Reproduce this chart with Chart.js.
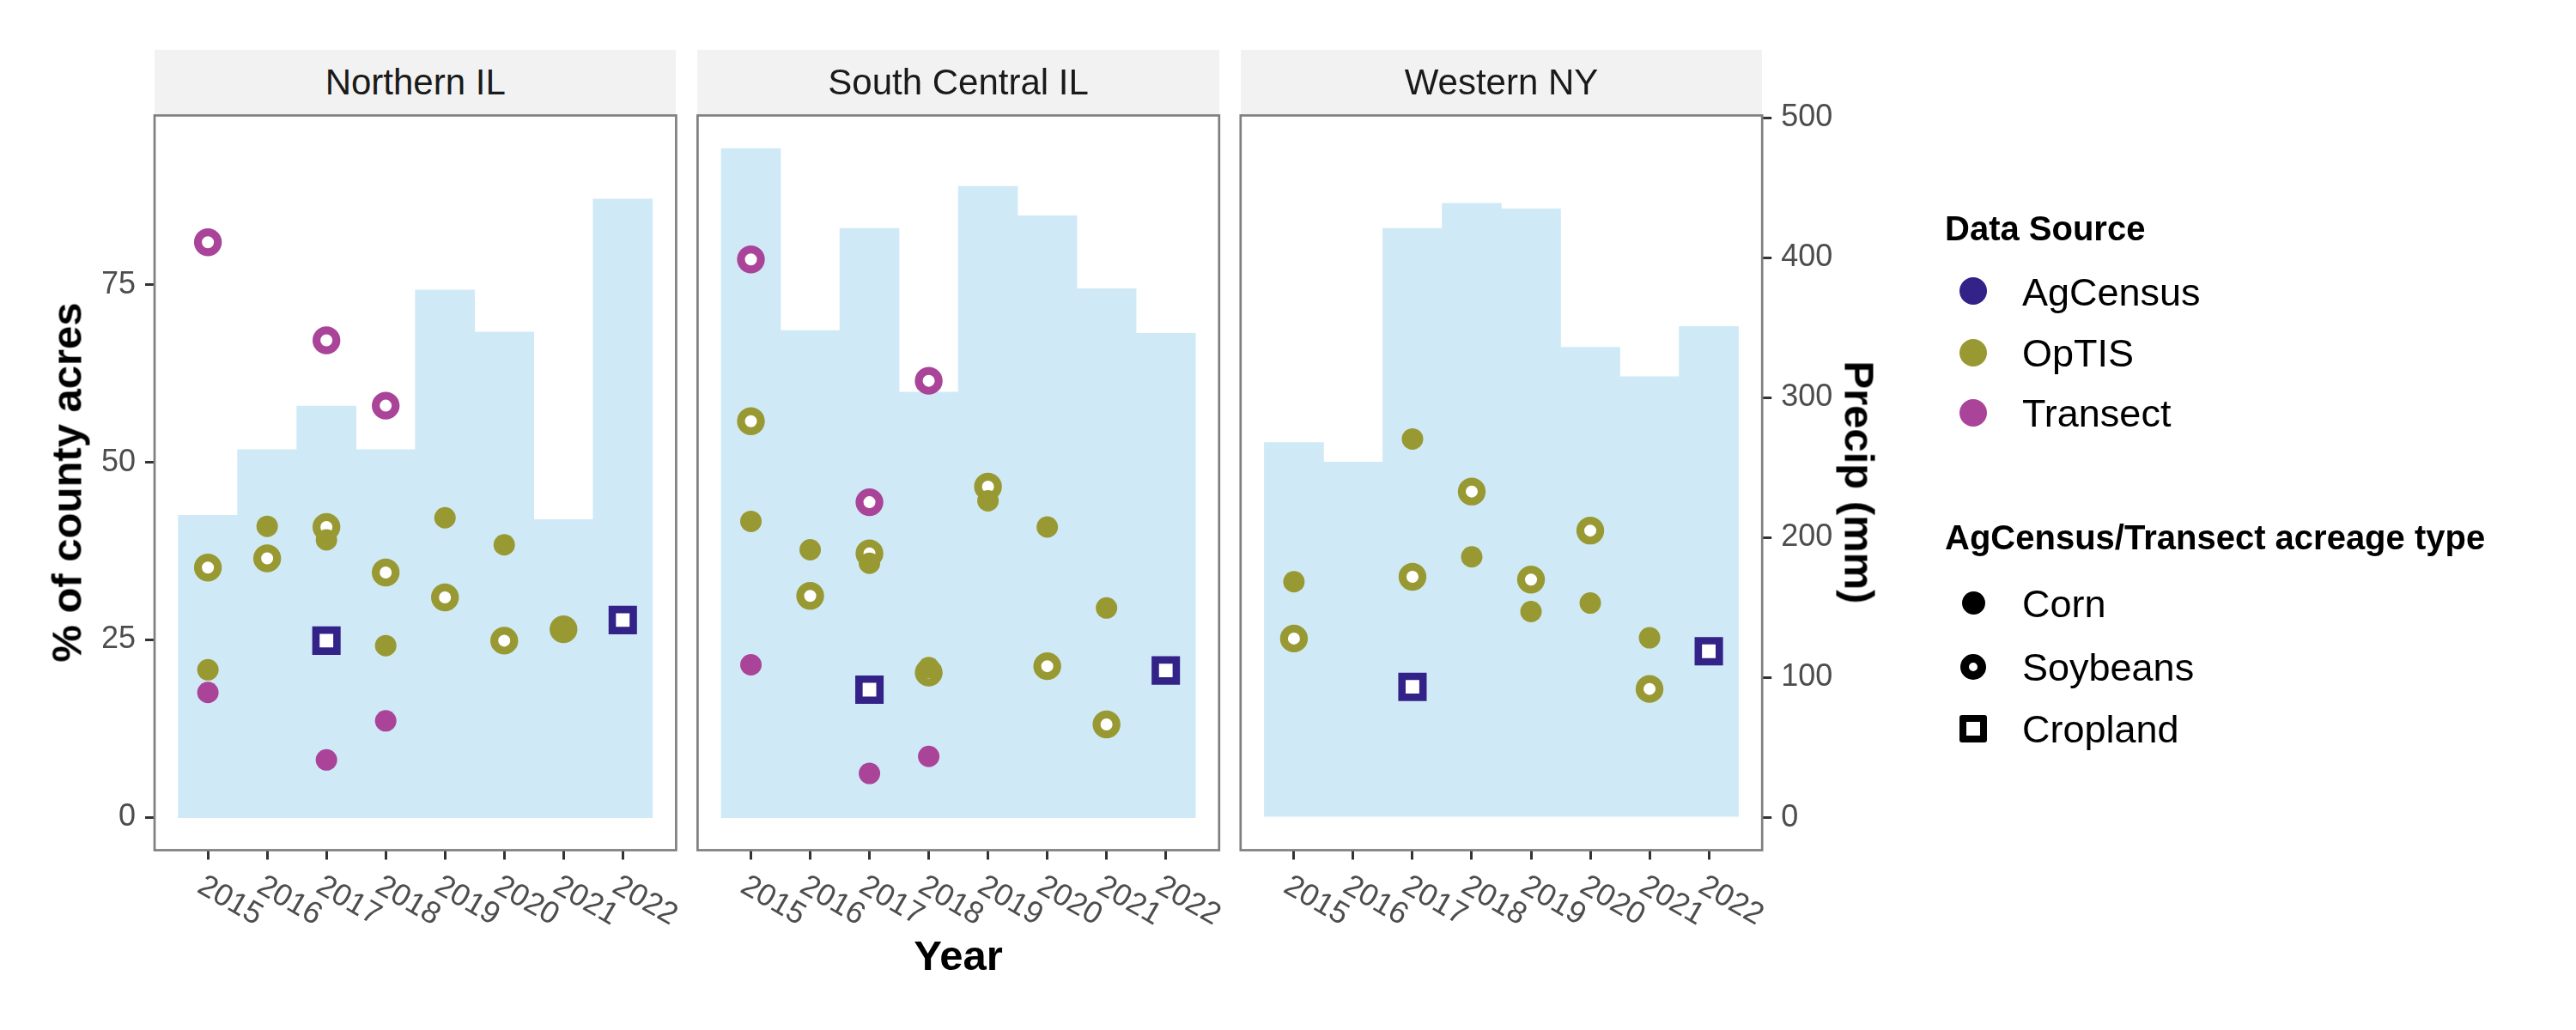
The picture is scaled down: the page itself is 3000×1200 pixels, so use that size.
<!DOCTYPE html>
<html>
<head>
<meta charset="utf-8">
<script src="https://cdn.jsdelivr.net/npm/chart.js@4.4.1/dist/chart.umd.min.js"></script>
<style>
  html, body { margin: 0; padding: 0; background: #ffffff; }
  #wrap { position: relative; width: 3000px; height: 1200px; overflow: hidden;
          font-family: "Liberation Sans", Arial, sans-serif; background: #ffffff; }
  #wrap canvas { position: absolute; left: 0; top: 0; }
  .strip { position: absolute; top: 58px; height: 75px; background: #F2F2F2; color: #1A1A1A;
           font-size: 42px; line-height: 75px; text-align: center; white-space: nowrap; }
  .axtitle { position: absolute; font-weight: bold; font-size: 49px; line-height: 49px;
             color: #000; white-space: nowrap; transform-origin: center center; }
  .legtitle { position: absolute; left: 2265px; font-weight: bold; font-size: 40px; line-height: 40px;
              color: #000; white-space: nowrap; }
  .legtext { position: absolute; left: 2355px; font-size: 45px; line-height: 45px; color: #000; white-space: nowrap; }
  .key { position: absolute; box-sizing: border-box; }
</style>
</head>
<body>
<div id="wrap">
  <canvas id="c0" width="3000" height="1200"></canvas>
  <canvas id="c1" width="3000" height="1200"></canvas>
  <canvas id="c2" width="3000" height="1200"></canvas>
</div>
<script>
// ---------------- DATA ----------------
const years = [2015, 2016, 2017, 2018, 2019, 2020, 2021, 2022];
const yearLabels = ['2015', '2016', '2017', '2018', '2019', '2020', '2021', '2022'];
const regionNames = ['Northern IL', 'South Central IL', 'Western NY'];
const pctTicks = [0, 25, 50, 75];
const precipTicks = [0, 100, 200, 300, 400, 500];
const sourceNames = ['AgCensus', 'OpTIS', 'Transect'];
const acreageTypes = ['Corn', 'Soybeans', 'Cropland'];

// Precipitation (mm), bars
const precipNorthernIL     = [216, 263, 294, 263, 377, 347, 213, 442];
const precipSouthCentralIL = [478, 348, 421, 304, 451, 430, 378, 346];
const precipWesternNY      = [268, 254, 421, 439, 435, 336, 315, 351];

// % of county acres — Northern IL
const optisCornNorthernIL     = [20.8, 41.0, 39.1, 24.2, 42.2, 38.4, 26.5, null];
const optisSoyNorthernIL      = [35.2, 36.5, 40.9, 34.5, 31.0, 24.9, 26.5, null];
const transectCornNorthernIL  = [17.6, null, 8.1, 13.6, null, null, null, null];
const transectSoyNorthernIL   = [81.0, null, 67.2, 58.0, null, null, null, null];
const agCroplandNorthernIL    = [null, null, 24.9, null, null, null, null, 27.8];

// % of county acres — South Central IL
const optisCornSouthCentralIL    = [41.7, 37.7, 35.8, 21.1, 44.6, 40.9, 29.5, null];
const optisSoySouthCentralIL     = [55.8, 31.2, 37.2, 20.4, 46.6, 21.3, 13.1, null];
const transectCornSouthCentralIL = [21.5, null, 6.2, 8.6, null, null, null, null];
const transectSoySouthCentralIL  = [78.6, null, 44.4, 61.5, null, null, null, null];
const agCroplandSouthCentralIL   = [null, null, 18.0, null, null, null, null, 20.7];

// % of county acres — Western NY
const optisCornWesternNY    = [33.2, null, 53.3, 36.7, 29.0, 30.2, 25.3, null];
const optisSoyWesternNY     = [25.2, null, 33.9, 45.9, 33.5, 40.4, 18.1, null];
const transectCornWesternNY = [null, null, null, null, null, null, null, null];
const transectSoyWesternNY  = [null, null, null, null, null, null, null, null];
const agCroplandWesternNY   = [null, null, 18.4, null, null, null, null, 23.4];

// ---------------- STYLE / LAYOUT ----------------
const COL_AG = '#332288', COL_OP = '#999933', COL_TR = '#AA4499';
const BAR_FILL = '#CFEAF6';
const FONT = '"Liberation Sans", Arial, sans-serif';
const PANEL_TOP = 134.5, PANEL_BOTTOM = 990.5;
const PANEL_LEFT = [180, 812.4, 1444.8], PANEL_W = 607.4;
const X_MIN = 2014.1, X_MAX = 2022.9;
const Y_MIN = -4.61, Y_MAX = 98.87;
const Y2_MIN = -23.24, Y2_MAX = 501.7;

Chart.defaults.font.family = FONT;

const panelTables = [
  { precip: precipNorthernIL, oc: optisCornNorthernIL, os: optisSoyNorthernIL, tc: transectCornNorthernIL, ts: transectSoyNorthernIL, ag: agCroplandNorthernIL },
  { precip: precipSouthCentralIL, oc: optisCornSouthCentralIL, os: optisSoySouthCentralIL, tc: transectCornSouthCentralIL, ts: transectSoySouthCentralIL, ag: agCroplandSouthCentralIL },
  { precip: precipWesternNY, oc: optisCornWesternNY, os: optisSoyWesternNY, tc: transectCornWesternNY, ts: transectSoyWesternNY, ag: agCroplandWesternNY }
];

function pts(arr) {
  return years.map((x, i) => ({ x: x, y: arr[i] })).filter(p => p.y !== null);
}
function pointSet(label, arr, color, kind, order) {
  const d = { type: 'scatter', label: label, data: pts(arr), xAxisID: 'x', yAxisID: 'y', order: order };
  if (kind === 'corn') Object.assign(d, { pointStyle: 'circle', pointRadius: 12.5, pointBorderWidth: 0, pointBackgroundColor: color, pointBorderColor: color });
  if (kind === 'soy')  Object.assign(d, { pointStyle: 'circle', pointRadius: 11.6, pointBorderWidth: 9.2, pointBackgroundColor: '#FFFFFF', pointBorderColor: color });
  if (kind === 'crop') Object.assign(d, { pointStyle: 'rect', pointRadius: 17.3, pointBorderWidth: 8.6, pointBackgroundColor: '#FFFFFF', pointBorderColor: color });
  return d;
}

const panelPlugin = {
  id: 'panelDecor',
  afterDraw(chart) {
    const ctx = chart.ctx, a = chart.chartArea, xs = chart.scales.x;
    ctx.save();
    ctx.strokeStyle = '#7F7F7F';
    ctx.lineWidth = 2.7;
    ctx.strokeRect(a.left, a.top, a.right - a.left, a.bottom - a.top);
    ctx.font = '36px ' + FONT;
    ctx.fillStyle = '#4D4D4D';
    ctx.textAlign = 'left';
    ctx.textBaseline = 'alphabetic';
    xs.ticks.forEach((t) => {
      const px = xs.getPixelForValue(t.value);
      ctx.save();
      ctx.translate(px - 14, a.bottom + 47.8);
      ctx.rotate(Math.PI / 6);
      ctx.fillText(yearLabels[years.indexOf(t.value)], 0, 0);
      ctx.restore();
    });
    ctx.restore();
  }
};

function makePanel(idx) {
  const T = panelTables[idx];
  const left = PANEL_LEFT[idx], right = left + PANEL_W;
  const showY = idx === 0, showY2 = idx === 2;
  const yW = 60, y2W = 100, xH = 12;
  const tickGrid = { display: true, offset: false, drawOnChartArea: false, drawTicks: true, tickLength: 11,
                     tickWidth: 3, lineWidth: 3, tickColor: '#333333', color: '#333333' };
  const datasets = [
    { type: 'bar', label: 'Precip', data: years.map((x, i) => ({ x: x, y: T.precip[i] })), xAxisID: 'x', yAxisID: 'y2',
      backgroundColor: BAR_FILL, borderWidth: 0, barPercentage: 1, categoryPercentage: 1, grouped: false, order: 20 },
    pointSet('OpTIS Soybeans', T.os, COL_OP, 'soy', 6),
    pointSet('Transect Soybeans', T.ts, COL_TR, 'soy', 6),
    pointSet('OpTIS Corn', T.oc, COL_OP, 'corn', 4),
    pointSet('Transect Corn', T.tc, COL_TR, 'corn', 4),
    pointSet('AgCensus Cropland', T.ag, COL_AG, 'crop', 2)
  ];
  return new Chart(document.getElementById('c' + idx), {
    type: 'bar',
    data: { datasets: datasets },
    plugins: [panelPlugin],
    options: {
      responsive: false, animation: false, events: [],
      layout: { padding: { left: left - (showY ? yW : 0), right: 3000 - right - (showY2 ? y2W : 0),
                           top: PANEL_TOP, bottom: 1200 - PANEL_BOTTOM - xH } },
      plugins: { legend: { display: false }, tooltip: { enabled: false }, title: { display: false } },
      scales: {
        x: { type: 'linear', min: X_MIN, max: X_MAX, offset: false,
             afterBuildTicks: s => { s.ticks = years.map(v => ({ value: v })); },
             afterFit: s => { s.height = xH; },
             ticks: { display: false }, grid: tickGrid, border: { display: false } },
        y: { type: 'linear', position: 'left', display: showY, min: Y_MIN, max: Y_MAX,
             afterBuildTicks: s => { s.ticks = pctTicks.map(v => ({ value: v })); },
             afterFit: s => { s.width = showY ? yW : 0; },
             ticks: { display: true, font: { size: 36, family: FONT }, color: '#4D4D4D', padding: 11,
                      autoSkip: false, callback: v => String(v) },
             grid: tickGrid, border: { display: false } },
        y2: { type: 'linear', position: 'right', display: showY2, min: Y2_MIN, max: Y2_MAX,
              afterBuildTicks: s => { s.ticks = precipTicks.map(v => ({ value: v })); },
              afterFit: s => { s.width = showY2 ? y2W : 0; },
              ticks: { display: true, font: { size: 36, family: FONT }, color: '#4D4D4D', padding: 11,
                       autoSkip: false, callback: v => String(v) },
              grid: tickGrid, border: { display: false } }
      }
    }
  });
}

// ---------------- HTML TEXT (strips, titles, legend) ----------------
const wrap = document.getElementById('wrap');
function addDiv(cls, text, style) {
  const d = document.createElement('div');
  d.className = cls;
  if (text !== null) d.textContent = text;
  Object.assign(d.style, style);
  wrap.appendChild(d);
  return d;
}
regionNames.forEach((n, i) => addDiv('strip', n, { left: PANEL_LEFT[i] + 'px', width: PANEL_W + 'px' }));

addDiv('axtitle', '% of county acres', { left: '78px', top: '561.5px', transform: 'translate(-50%,-50%) rotate(-90deg)' });
addDiv('axtitle', 'Precip (mm)', { left: '2165px', top: '562px', transform: 'translate(-50%,-50%) rotate(90deg)' });
addDiv('axtitle', 'Year', { left: ((PANEL_LEFT[0] + PANEL_LEFT[2] + PANEL_W) / 2) + 'px', top: '1113px', transform: 'translate(-50%,-50%)' });

// legend: Data Source
addDiv('legtitle', 'Data Source', { top: '246px' });
const srcColors = [COL_AG, COL_OP, COL_TR];
const srcY = [339.3, 410.7, 480.7];
sourceNames.forEach((n, i) => {
  addDiv('key', null, { left: (2298 - 16) + 'px', top: (srcY[i] - 16) + 'px', width: '32px', height: '32px',
                         borderRadius: '50%', background: srcColors[i] });
  addDiv('legtext', n, { top: (srcY[i] + 16.5 - 38.1) + 'px' });
});
// legend: acreage type
addDiv('legtitle', 'AgCensus/Transect acreage type', { top: '606px' });
const typeY = [702.5, 776.7, 849];
addDiv('key', null, { left: (2298 - 13.5) + 'px', top: (typeY[0] - 13.5) + 'px', width: '27px', height: '27px',
                       borderRadius: '50%', background: '#000' });
addDiv('key', null, { left: (2298 - 15) + 'px', top: (typeY[1] - 15) + 'px', width: '30px', height: '30px',
                       borderRadius: '50%', border: '10px solid #000', background: '#fff' });
addDiv('key', null, { left: (2298 - 16) + 'px', top: (typeY[2] - 16) + 'px', width: '32px', height: '32px',
                       borderRadius: '3px', border: '8.5px solid #000', background: '#fff' });
acreageTypes.forEach((n, i) => addDiv('legtext', n, { top: (typeY[i] + 16.5 - 38.1) + 'px' }));

[0, 1, 2].forEach(makePanel);
</script>
</body>
</html>
